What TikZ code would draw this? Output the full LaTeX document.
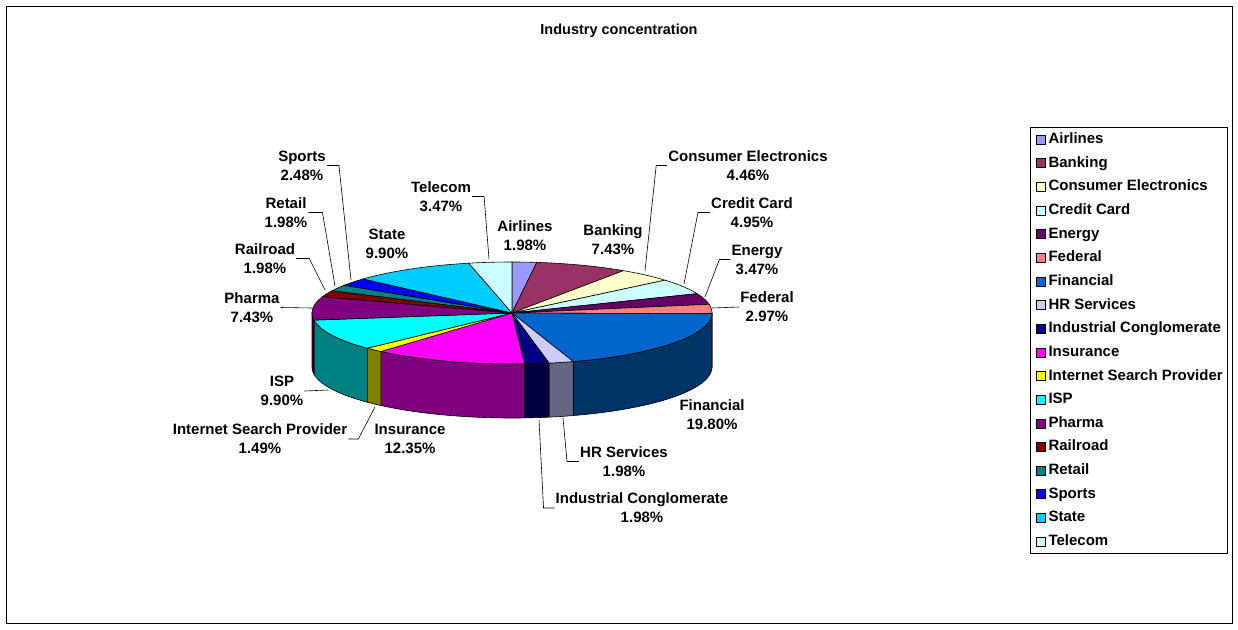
\documentclass[tikz,border=0pt]{standalone}
\usepackage{fontspec}
\setmainfont{Liberation Sans}
\usetikzlibrary{positioning}
\definecolor{periwinkle}{RGB}{153,153,255}
\definecolor{plum}{RGB}{153,51,102}
\definecolor{ivory}{RGB}{255,255,204}
\definecolor{lightturquoise}{RGB}{204,255,255}
\definecolor{darkpurple}{RGB}{102,0,102}
\definecolor{coral}{RGB}{255,128,128}
\definecolor{oceanblue}{RGB}{0,102,204}
\definecolor{iceblue}{RGB}{204,204,255}
\definecolor{navyblue}{RGB}{0,0,128}
\definecolor{pinkmagenta}{RGB}{255,0,255}
\definecolor{brightyellow}{RGB}{255,255,0}
\definecolor{turquoise}{RGB}{0,255,255}
\definecolor{violetpurple}{RGB}{128,0,128}
\definecolor{darkred}{RGB}{128,0,0}
\definecolor{tealgreen}{RGB}{0,128,128}
\definecolor{brightblue}{RGB}{0,0,255}
\definecolor{skyblue}{RGB}{0,204,255}
\newcommand{\pieunit}{1.782178}

\begin{document}
\begin{tikzpicture}[x=1pt, y=-1pt,
    slice/.style={draw=black, line width=0.6pt, line join=round},
    lbl/.style={align=center, font=\fontsize{15}{19}\selectfont\bfseries, inner sep=1pt},
    leader/.style={draw=black, line width=0.6pt},
    legendkey/.style={draw=black, line width=0.6pt, minimum size=9pt, inner sep=0pt},
    legendtext/.style={font=\fontsize{15}{19}\selectfont\bfseries, inner sep=0pt, text height=11pt, text depth=3pt}]
    \useasboundingbox (0,0) rectangle (1238,629);
    \draw[line width=1pt] (6,6) rectangle (1232,623);

    \node[font=\fontsize{14.5}{17}\selectfont\bfseries] (title) at (619,31) {Industry concentration};

    % pie: sides first, then the top faces
    \coordinate (pc) at (512,313);
    \foreach \s/\e/\col in {50.5/51/coral, 51/91/oceanblue, 91/95/iceblue, 95/99/navyblue,
        99/124/pinkmagenta, 124/127/brightyellow, 127/147/turquoise, 147/151.5/violetpurple}{
        \pgfmathsetmacro\angA{90-\s*\pieunit}
        \pgfmathsetmacro\angB{90-\e*\pieunit}
        \filldraw[slice, fill=\col!50!black]
            plot[domain=\angA:\angB, samples=40] ({512+200*cos(\x)},{313-51*sin(\x)})
            -- plot[domain=\angB:\angA, samples=40] ({512+200*cos(\x)},{367-51*sin(\x)}) -- cycle;
    }
    \foreach \s/\e/\col in {0/4/periwinkle, 4/19/plum, 19/28/ivory, 28/38/lightturquoise,
        38/45/darkpurple, 45/51/coral, 51/91/oceanblue, 91/95/iceblue, 95/99/navyblue,
        99/124/pinkmagenta, 124/127/brightyellow, 127/147/turquoise, 147/162/violetpurple,
        162/166/darkred, 166/170/tealgreen, 170/175/brightblue, 175/195/skyblue, 195/202/lightturquoise}{
        \pgfmathsetmacro\angA{90-\s*\pieunit}
        \pgfmathsetmacro\angB{90-\e*\pieunit}
        \filldraw[slice, fill=\col] (pc)
            -- plot[domain=\angA:\angB, samples=40] ({512+200*cos(\x)},{313-51*sin(\x)}) -- cycle;
    }

    % data labels
    \node[lbl] (airlines) at (525,236) {Airlines\\1.98\%};
    \node[lbl] (banking) at (613,239.5) {Banking\\7.43\%};
    \node[lbl] (consumer) at (748,165.5) {Consumer Electronics\\4.46\%};
    \node[lbl] (credit) at (752,212.5) {Credit Card\\4.95\%};
    \node[lbl] (energy) at (757,259.5) {Energy\\3.47\%};
    \node[lbl] (federal) at (767,307) {Federal\\2.97\%};
    \node[lbl] (financial) at (712,414.5) {Financial\\19.80\%};
    \node[lbl] (hrserv) at (624,461.5) {HR Services\\1.98\%};
    \node[lbl] (indcong) at (642,508) {Industrial Conglomerate\\1.98\%};
    \node[lbl] (insurance) at (410,439) {Insurance\\12.35\%};
    \node[lbl] (isprov) at (260,439) {Internet Search Provider\\1.49\%};
    \node[lbl] (isp) at (282,391) {ISP\\9.90\%};
    \node[lbl] (pharma) at (252,307.5) {Pharma\\7.43\%};
    \node[lbl] (railroad) at (265,258.5) {Railroad\\1.98\%};
    \node[lbl] (retail) at (286,212.5) {Retail\\1.98\%};
    \node[lbl] (sports) at (302,165.5) {Sports\\2.48\%};
    \node[lbl] (state) at (387,244) {State\\9.90\%};
    \node[lbl] (telecom) at (441,196.5) {Telecom\\3.47\%};

    % leader lines
    \coordinate (consumerend) at (645,271);
    \coordinate (creditend) at (684,284);
    \coordinate (energyend) at (705,297);
    \coordinate (federalend) at (712,308);
    \coordinate (hrservend) at (563,418);
    \coordinate (indcongend) at (539,420);
    \coordinate (isprovend) at (375,407);
    \coordinate (ispend) at (328,390);
    \coordinate (pharmaend) at (312,308);
    \coordinate (railroadend) at (325,290);
    \coordinate (retailend) at (335,286);
    \coordinate (sportsend) at (351,280);
    \coordinate (telecomend) at (489,259);
    \draw[leader] (consumer.west) -- ++(-11,0) -- (consumerend);
    \draw[leader] (credit.west) -- ++(-12,0) -- (creditend);
    \draw[leader] (energy.west) -- ++(-11,0) -- (energyend);
    \draw[leader] (federal.west) -- (federalend);
    \draw[leader] (hrserv.west) -- ++(-12,0) -- (hrservend);
    \draw[leader] (indcong.west) -- ++(-11,0) -- (indcongend);
    \draw[leader] (isprov.east) -- ++(10,0) -- (isprovend);
    \draw[leader] (isp.east) -- (ispend);
    \draw[leader] (pharma.east) -- (pharmaend);
    \draw[leader] (railroad.east) -- ++(13,0) -- (railroadend);
    \draw[leader] (retail.east) -- ++(14,0) -- (retailend);
    \draw[leader] (sports.east) -- ++(12,0) -- (sportsend);
    \draw[leader] (telecom.east) -- ++(12,0) -- (telecomend);

    % legend
    \node[draw=black, line width=0.8pt, minimum width=197pt, minimum height=426pt, anchor=north west, inner sep=0pt] (legend) at (1030,127) {};
    \foreach \name/\col [count=\i] in {Airlines/periwinkle, Banking/plum, Consumer Electronics/ivory,
        Credit Card/lightturquoise, Energy/darkpurple, Federal/coral, Financial/oceanblue,
        HR Services/iceblue, Industrial Conglomerate/navyblue, Insurance/pinkmagenta,
        Internet Search Provider/brightyellow, ISP/turquoise, Pharma/violetpurple, Railroad/darkred,
        Retail/tealgreen, Sports/brightblue, State/skyblue, Telecom/lightturquoise}{
        \node[legendkey, fill=\col] (key\i) at (1040.5,{139.5+23.65*(\i-1)}) {};
        \node[legendtext, right=3pt of key\i] (entry\i) {\name};
    }
\end{tikzpicture}
\end{document}
